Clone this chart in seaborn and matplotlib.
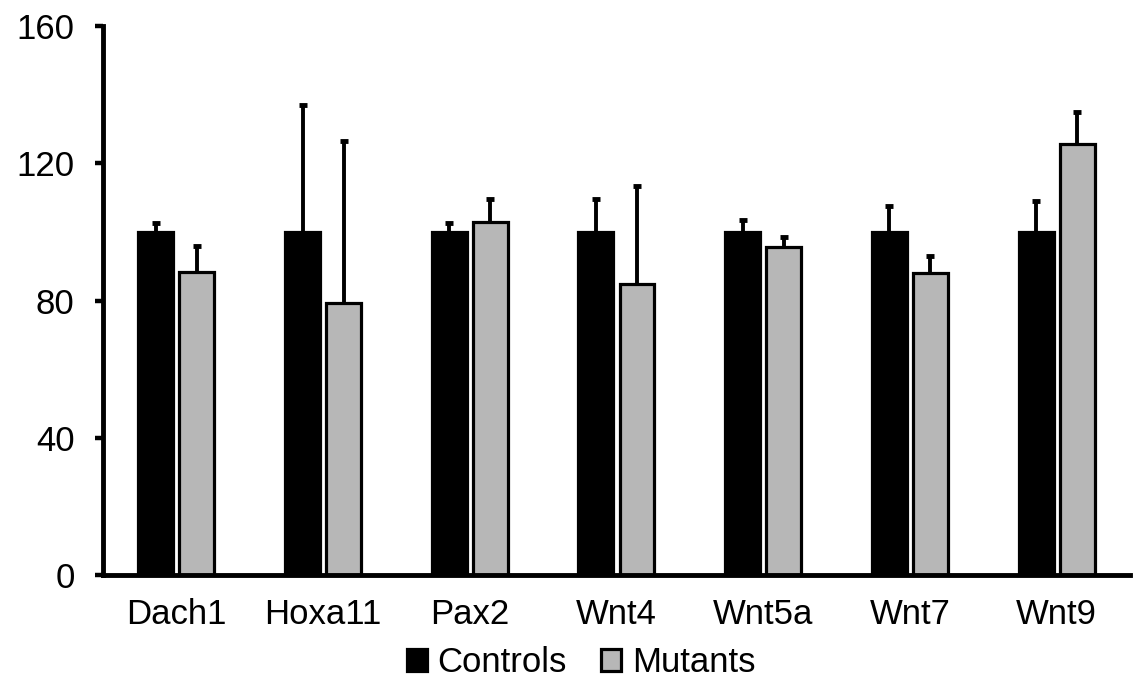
import numpy as np
import pandas as pd
import matplotlib
matplotlib.use("Agg")
import matplotlib.pyplot as plt
import seaborn as sns

genes = ["Dach1", "Hoxa11", "Pax2", "Wnt4", "Wnt5a", "Wnt7", "Wnt9"]
groups = ["Controls", "Mutants"]
controls = [100, 100, 100, 100, 100, 100, 100]
controls_err = [2.5, 37.0, 2.5, 9.5, 3.5, 7.5, 9.0]
mutants = [88.5, 79.2, 103.0, 85.0, 95.7, 88.0, 125.5]
mutants_err = [7.5, 47.3, 6.5, 28.5, 2.8, 5.0, 9.5]
yticks = [0, 40, 80, 120, 160]

sns.set_theme(style="white")
plt.rcParams["font.family"] = ["Liberation Sans", "DejaVu Sans"]

df = pd.DataFrame({
    "gene": genes * 2,
    "group": [groups[0]] * len(genes) + [groups[1]] * len(genes),
    "value": controls + mutants,
    "err": controls_err + mutants_err,
})

fig = plt.figure(figsize=(11.37, 6.82), dpi=100)
ax = fig.add_axes([0.0906, 0.1562, 0.9032, 0.8057])

sns.barplot(data=df, x="gene", y="value", hue="group", order=genes,
            hue_order=groups, palette=["#000000", "#b7b7b7"],
            width=0.56, gap=0.15, errorbar=None, ax=ax,
            edgecolor="black", linewidth=2.3, legend=True)

# error bars (upper only)
for cont, grp in zip(ax.containers, groups):
    sub = df[df["group"] == grp].set_index("gene").loc[genes]
    xs = [p.get_x() + p.get_width() / 2 for p in cont.patches]
    eb = ax.errorbar(xs, sub["value"].values,
                     yerr=[np.zeros(len(genes)), sub["err"].values],
                     fmt="none", ecolor="black", elinewidth=2.8,
                     capsize=2.6, capthick=3.5, zorder=3)
    caps = eb[1]
    if len(caps) == 2:
        caps[0].set_visible(False)

ax.set_ylim(0, 160)
ax.set_xlim(-0.5, 6.5)
ax.set_yticks(yticks)
ax.set_xlabel("")
ax.set_ylabel("")
for s in ["top", "right"]:
    ax.spines[s].set_visible(False)
for s in ["left", "bottom"]:
    ax.spines[s].set_linewidth(3.5)
    ax.spines[s].set_color("black")
    ax.spines[s].set_zorder(4)
ax.tick_params(axis="y", direction="out", length=5.5, width=3.2,
               labelsize=25, colors="black", pad=15, left=True)
ax.tick_params(axis="x", length=0, labelsize=25, pad=16, colors="black")

leg = ax.get_legend()
handles = leg.legend_handles
leg.remove()
fig.legend(handles, groups, loc="lower center", bbox_to_anchor=(0.511, -0.042),
           ncol=2, frameon=False, fontsize=25, handlelength=0.58,
           handleheight=0.58, handletextpad=0.3, columnspacing=1.0,
           labelcolor="black")

fig.savefig("out.png", dpi=100)
